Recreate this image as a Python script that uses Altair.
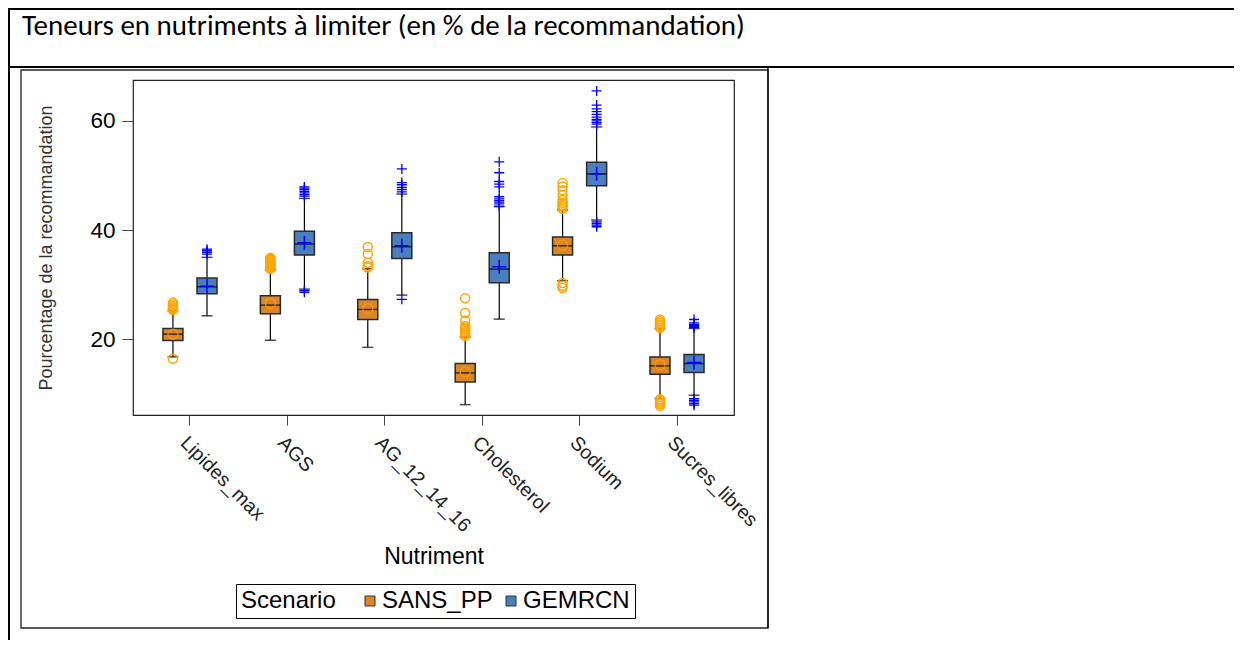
import altair as alt
import pandas as pd

# ---------------- data ----------------
nutriments = ["Lipides_max", "AGS", "AG_12_14_16", "Cholesterol", "Sodium", "Sucres_libres"]
scenarios = ["SANS_PP", "GEMRCN"]

# SANS_PP summaries
sans_lo = [16.75, 19.8, 18.5, 8.0, 30.7, 9.1]
sans_q1 = [19.76, 24.64, 23.61, 12.17, 35.41, 13.58]
sans_med = [20.92, 26.24, 25.45, 13.82, 37.12, 15.1]
sans_q3 = [21.96, 27.95, 27.28, 15.54, 38.72, 16.75]
sans_hi = [25.2, 32.66, 32.9, 20.4, 43.67, 21.96]
sans_mean = [20.9, 26.55, 25.6, 14.0, 37.2, 15.3]

# GEMRCN summaries
gem_lo = [24.28, 29.17, 28.07, 23.67, 41.83, 9.72]
gem_q1 = [28.31, 35.41, 34.8, 30.33, 48.13, 13.89]
gem_med = [29.6, 37.43, 36.94, 32.84, 50.28, 15.54]
gem_q3 = [31.19, 39.76, 39.5, 35.84, 52.42, 17.19]
gem_hi = [35.0, 45.8, 46.6, 44.28, 58.9, 21.96]
gem_mean = [29.7, 37.67, 37.1, 33.27, 50.3, 15.7]

# outliers
sans_out = {
    "Lipides_max": [16.4, 25.4, 25.6, 25.8, 26.1, 26.4, 26.7],
    "AGS": [32.9, 33.1, 33.3, 33.5, 33.7, 33.9, 34.1, 34.3, 34.5, 34.7, 34.9],
    "AG_12_14_16": [33.15, 33.4, 34.0, 35.6, 36.9],
    "Cholesterol": [20.6, 20.9, 21.2, 21.5, 21.8, 22.1, 22.4, 23.4, 24.8, 27.5],
    "Sodium": [29.4, 29.8, 30.3, 43.9, 44.3, 44.6, 45.0, 45.5, 46.4, 47.3, 48.0, 48.6],
    "Sucres_libres": [7.8, 8.1, 8.4, 8.7, 9.0, 22.1, 22.4, 22.7, 23.0, 23.3, 23.6],
}
gem_out = {
    "Lipides_max": [35.6, 35.9, 36.2, 36.5],
    "AGS": [28.6, 28.9, 46.2, 46.5, 46.8, 47.1, 47.4, 47.7, 47.9],
    "AG_12_14_16": [27.3, 47.0, 47.4, 47.8, 48.3, 48.7, 51.2],
    "Cholesterol": [44.4, 44.8, 45.1, 45.4, 45.7, 46.1, 47.9, 48.4, 48.9, 50.5, 52.5],
    "Sodium": [40.6, 40.9, 41.2, 41.5, 59.4, 59.7, 60.0, 60.3, 60.7, 61.2, 61.7, 62.2, 62.9, 65.5],
    "Sucres_libres": [7.9, 8.2, 8.5, 8.8, 9.1, 22.1, 22.3, 22.5, 22.7, 23.0, 23.6],
}

title_text = "Teneurs en nutriments à limiter (en % de la recommandation)"

# ---------------- tables ----------------
rows = []
for i, n in enumerate(nutriments):
    rows.append(dict(Nutriment=n, Scenario="SANS_PP", lo=sans_lo[i], q1=sans_q1[i], med=sans_med[i],
                     q3=sans_q3[i], hi=sans_hi[i], mean=sans_mean[i]))
    rows.append(dict(Nutriment=n, Scenario="GEMRCN", lo=gem_lo[i], q1=gem_q1[i], med=gem_med[i],
                     q3=gem_q3[i], hi=gem_hi[i], mean=gem_mean[i]))
summary = pd.DataFrame(rows)

orows = []
for n in nutriments:
    for v in sans_out[n]:
        orows.append(dict(Nutriment=n, Scenario="SANS_PP", value=v))
    for v in gem_out[n]:
        orows.append(dict(Nutriment=n, Scenario="GEMRCN", value=v))
outliers = pd.DataFrame(orows)

ORANGE = "#D9862B"
BLUE = "#4A7EBD"
FONT = "Liberation Sans"

xenc = alt.X("Nutriment:N", sort=nutriments,
             scale=alt.Scale(paddingInner=0, paddingOuter=0.085),
             title="Nutriment",
             axis=alt.Axis(labelAngle=45, labelAlign="left", labelBaseline="top",
                           labelFontSize=19.5, labelFont=FONT, labelColor="#222",
                           labelPadding=8, tickSize=10, tickColor="#444", domain=False,
                           titleFontSize=23, titleFont=FONT, titleFontWeight="normal",
                           titleY=141, titleBaseline="middle", titleColor="black"))
xoff = alt.XOffset("Scenario:N", sort=scenarios,
                   scale=alt.Scale(paddingInner=0, paddingOuter=0.43))
yscale = alt.Scale(domain=[6.1, 67.5], nice=False, zero=False)
yaxis = alt.Axis(values=[20, 40, 60], labelFontSize=22.5, labelFont=FONT, labelColor="black",
                 tickSize=11, tickColor="#444", domain=False, grid=False, labelPadding=7,
                 titleFontSize=18, titleFont=FONT, titleFontWeight="normal", titleColor="#333",
                 titleX=-87, titleY=167.5, titleAngle=-90, titleBaseline="middle", titleAlign="center")

base = alt.Chart(summary)

whisk = base.mark_rule(color="black", strokeWidth=1.2).encode(
    x=xenc, xOffset=xoff,
    y=alt.Y("lo:Q", scale=yscale, axis=yaxis, title="Pourcentage de la recommandation"),
    y2="hi:Q")
cap_lo = base.mark_tick(color="black", size=11, thickness=1.5).encode(
    x=xenc, xOffset=xoff, y=alt.Y("lo:Q", scale=yscale))
cap_hi = base.mark_tick(color="black", size=11, thickness=1.5).encode(
    x=xenc, xOffset=xoff, y=alt.Y("hi:Q", scale=yscale))
box = base.mark_bar(size=20, stroke="#2a2a2a", strokeWidth=1.5).encode(
    x=xenc, xOffset=xoff,
    y=alt.Y("q1:Q", scale=yscale), y2="q3:Q",
    color=alt.Color("Scenario:N", sort=scenarios,
                    scale=alt.Scale(domain=scenarios, range=[ORANGE, BLUE]),
                    legend=alt.Legend(title="Scenario", orient="none", legendX=103, legendY=504,
                                      direction="horizontal", titleOrient="left",
                                      titleFontSize=24, titleFont=FONT, titleFontWeight="normal",
                                      titleColor="black", titlePadding=22,
                                      labelFontSize=24, labelFont=FONT, labelColor="black",
                                      symbolType="square", symbolSize=100, symbolStrokeColor="#333",
                                      symbolStrokeWidth=1, symbolOpacity=1, labelOffset=0,
                                      columnPadding=6, strokeColor="black", fillColor="white",
                                      padding=5)))
median = base.mark_tick(color="black", size=20, thickness=1.5).encode(
    x=xenc, xOffset=xoff, y=alt.Y("med:Q", scale=yscale))

PLUS = "M-1,0L1,0M0,-1L0,1"
mean_s = base.transform_filter(alt.datum.Scenario == "SANS_PP").mark_point(
    shape="circle", filled=False, color="#FFA500", size=100, strokeWidth=1.3).encode(
    x=xenc, xOffset=xoff, y=alt.Y("mean:Q", scale=yscale))
mean_g = base.transform_filter(alt.datum.Scenario == "GEMRCN").mark_point(
    shape=PLUS, filled=False, color="#0000FF", size=196, strokeWidth=1.5, opacity=1).encode(
    x=xenc, xOffset=xoff, y=alt.Y("mean:Q", scale=yscale))

obase = alt.Chart(outliers)
out_s = obase.transform_filter(alt.datum.Scenario == "SANS_PP").mark_point(
    shape="circle", filled=False, color="#FFA500", size=81, strokeWidth=1.5, opacity=1).encode(
    x=xenc, xOffset=xoff, y=alt.Y("value:Q", scale=yscale))
out_g = obase.transform_filter(alt.datum.Scenario == "GEMRCN").mark_point(
    shape=PLUS, filled=False, color="#0000FF", size=100, strokeWidth=1.3, opacity=1).encode(
    x=xenc, xOffset=xoff, y=alt.Y("value:Q", scale=yscale))

# ---------------- page decoration (document table & caption) ----------------
deco = alt.Chart(pd.DataFrame({"k": [0]}))
top_line = deco.mark_rule(color="black", strokeWidth=2).encode(
    x=alt.value(-124), x2=alt.value(1109), y=alt.value(-71))
left_line = deco.mark_rule(color="black", strokeWidth=2).encode(
    x=alt.value(-124), y=alt.value(-72), y2=alt.value(570))
mid_line = deco.mark_rule(color="black", strokeWidth=2).encode(
    x=alt.value(-124), x2=alt.value(1109), y=alt.value(-13))
frame = deco.mark_rect(fillOpacity=0, stroke="#222", strokeWidth=1.3).encode(
    x=alt.value(-112), x2=alt.value(635), y=alt.value(-10), y2=alt.value(548))
cell_right = deco.mark_rule(color="black", strokeWidth=1.3).encode(
    x=alt.value(635), y=alt.value(-13), y2=alt.value(548))
caption = deco.mark_text(text=title_text, align="left", baseline="alphabetic",
                         font="Carlito, Liberation Sans Narrow, Liberation Sans", fontSize=29,
                         color="black").encode(x=alt.value(-111), y=alt.value(-45))

chart = alt.layer(
    top_line, left_line, mid_line, frame, cell_right, caption,
    whisk, cap_lo, cap_hi, box, median, mean_s, mean_g, out_s, out_g
).properties(
    width=601, height=335,
    autosize=alt.AutoSizeParams(type="none"),
    padding={"left": 125, "top": 72, "right": 500, "bottom": 225},
).configure(background="white").configure_view(stroke="#222", strokeWidth=1.2)

chart.save("out.html", embed_options={"renderer": "svg", "actions": False})
